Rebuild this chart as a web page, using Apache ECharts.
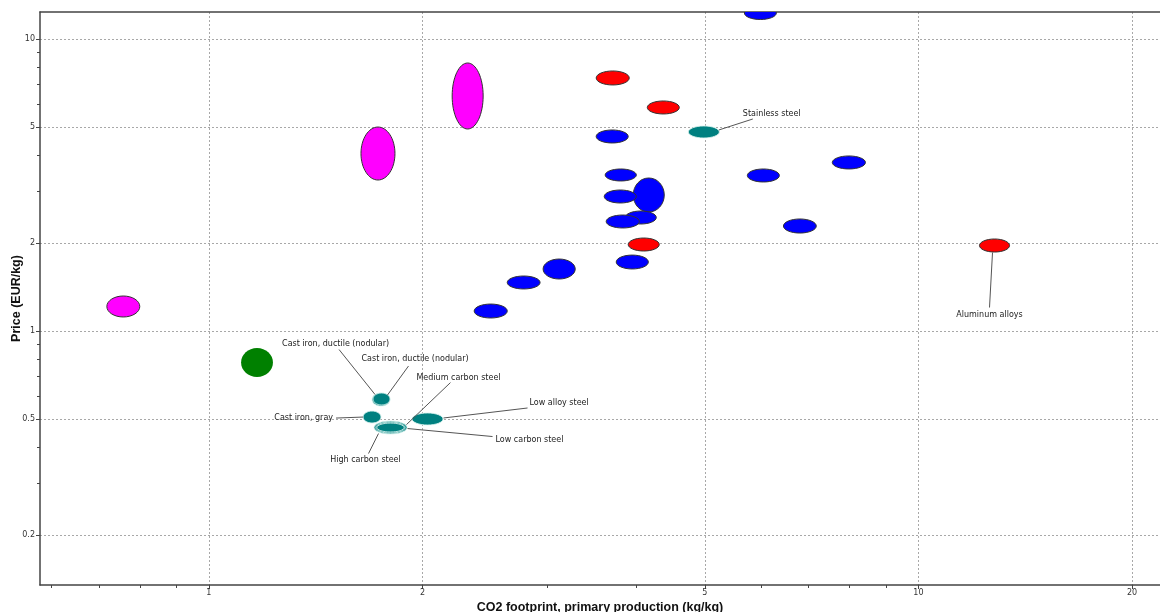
<!DOCTYPE html>
<html><head><meta charset="utf-8">
<script src="https://cdn.jsdelivr.net/npm/echarts@6/dist/echarts.min.js"></script>
<style>html,body{margin:0;padding:0;background:#fff}#c{width:1160px;height:612px}</style>
</head><body><div id="c"></div>
<script>
// ---- axes ----
const xTicks = [1, 2, 5, 10, 20];
const xMinorTicks = [0.6, 0.7, 0.8, 0.9, 3, 4, 6, 7, 8, 9];
const yTicks = [0.2, 0.5, 1, 2, 5, 10];
const yMinorTicks = [0.3, 0.4, 0.6, 0.7, 0.8, 0.9, 3, 4, 6, 7, 8, 9];
const xRange = [0.578, 21.9];
const yRange = [0.135, 12.37];
const xTitle = 'CO2 footprint, primary production (kg/kg)';
const yTitle = 'Price (EUR/kg)';

// ---- data: ranges [low, high] ----
const magentaCO2 = [[0.718, 0.799], [1.638, 1.829], [2.202, 2.435]];
const magentaPrice = [[1.117, 1.318], [3.289, 4.995], [4.918, 8.275]];

const greenCO2 = [[1.110, 1.231]];
const greenPrice = [[0.696, 0.875]];

const redNames = ['', '', '', 'Aluminum alloys'];
const redCO2 = [[3.514, 3.912], [4.148, 4.602], [3.899, 4.312], [12.19, 13.44]];
const redPrice = [[6.958, 7.771], [5.536, 6.134], [1.879, 2.082], [1.864, 2.066]];

const blueCO2 = [[5.684, 6.306], [3.514, 3.899], [3.618, 4.003], [3.963, 4.383], [3.607, 4.003],
  [3.861, 4.271], [3.630, 4.042], [3.750, 4.162], [2.958, 3.283], [2.633, 2.929], [2.365, 2.633],
  [5.739, 6.368], [7.561, 8.420], [6.452, 7.178]];
const bluePrice = [[11.66, 12.92], [4.404, 4.880], [3.264, 3.588], [2.556, 3.342], [2.744, 3.040],
  [2.325, 2.576], [2.253, 2.496], [1.631, 1.820], [1.507, 1.764], [1.393, 1.543], [1.108, 1.237],
  [3.238, 3.588], [3.588, 3.976], [2.165, 2.419]];

const tealNames = ['Cast iron, gray', 'Cast iron, ductile (nodular)', 'Cast iron, ductile (nodular)',
  'Low alloy steel', 'Low carbon steel', 'Medium carbon steel', 'High carbon steel', 'Stainless steel'];
const tealCO2 = [[1.649, 1.748], [1.698, 1.800], [1.703, 1.800], [1.933, 2.138], [1.709, 1.902],
  [1.719, 1.890], [1.725, 1.884], [4.738, 5.241]];
const tealPrice = [[0.484, 0.532], [0.5535, 0.6133], [0.558, 0.6133], [0.4766, 0.524], [0.4439, 0.4917],
  [0.447, 0.488], [0.451, 0.484], [4.581, 5.036]];

// ---- annotation layout (pixel offsets from ellipse centre) ----
const annotationLayout = [
  { group: 'teal', index: 0, text: [-39, 1, 'right'], line: [[-36, 1], [-9, 0]] },
  { group: 'teal', index: 1, text: [-99, -56, 'left'], line: [[-42, -50], [-6, -5]] },
  { group: 'teal', index: 2, text: [-20, -40, 'left'], line: [[27, -33], [6, -4]] },
  { group: 'teal', index: 3, text: [102, -16, 'left'], line: [[100, -11], [16, -1]] },
  { group: 'teal', index: 4, text: [105, 12, 'left'], line: [[17, 1], [102, 9]] },
  { group: 'teal', index: 5, text: [26, -50, 'left'], line: [[60, -45], [16, -3]] },
  { group: 'teal', index: 6, text: [-25, 32, 'center'], line: [[-22, 26], [-12, 6]] },
  { group: 'teal', index: 7, text: [39, -18, 'left'], line: [[15, -2], [49, -13]] },
  { group: 'red', index: 3, text: [-5, 69, 'center'], line: [[-2, 7], [-5, 62]] }
];

const L = Math.log10;
function rows(co2, price) {
  return co2.map((c, i) => [L(c[0]), L(c[1]), L(price[i][0]), L(price[i][1])]);
}
function ellipseGeom(api) {
  const p0 = api.coord([api.value(0), api.value(2)]);
  const p1 = api.coord([api.value(1), api.value(3)]);
  return {
    cx: (p0[0] + p1[0]) / 2, cy: (p0[1] + p1[1]) / 2,
    rx: Math.abs(p1[0] - p0[0]) / 2, ry: Math.abs(p1[1] - p0[1]) / 2
  };
}
function ellipseSeries(name, data, fill, stroke) {
  return {
    type: 'custom', name, clip: true, data,
    encode: { x: [0, 1], y: [2, 3] },
    renderItem: (params, api) => ({
      type: 'ellipse',
      shape: ellipseGeom(api),
      style: { fill, stroke, lineWidth: 1 }
    })
  };
}
const groups = {
  magenta: { co2: magentaCO2, price: magentaPrice, names: [] },
  green: { co2: greenCO2, price: greenPrice, names: [] },
  red: { co2: redCO2, price: redPrice, names: redNames },
  blue: { co2: blueCO2, price: bluePrice, names: [] },
  teal: { co2: tealCO2, price: tealPrice, names: tealNames }
};
const annData = annotationLayout.map(a => {
  const g = groups[a.group];
  const c = g.co2[a.index], p = g.price[a.index];
  return [L(c[0]), L(c[1]), L(p[0]), L(p[1])];
});

const fmt = v => String(+Math.pow(10, v).toPrecision(6));
const FONT = '"DejaVu Sans", sans-serif';
const axisCol = '#444';
const gridLine = { show: true, lineStyle: { type: [2, 2], color: '#a8a8a8', width: 1 } };

const option = {
  animation: false,
  backgroundColor: '#fff',
  grid: { left: 40, right: 0, top: 12, bottom: 27, containLabel: false, outerBoundsMode: 'none' },
  xAxis: [
    {
      type: 'value', min: L(xRange[0]), max: L(xRange[1]), position: 'bottom',
      name: xTitle, nameLocation: 'middle', nameGap: 16, nameMoveOverlap: false,
      nameTextStyle: { fontFamily: 'Liberation Sans', fontWeight: 'bold', fontSize: 12.5, color: '#111' },
      axisLine: { show: true, onZero: false, lineStyle: { color: axisCol, width: 1.5 } },
      axisTick: { show: true, customValues: xTicks.map(L), length: 4, lineStyle: { color: axisCol } },
      axisLabel: { customValues: xTicks.map(L), formatter: fmt, fontSize: 8, fontFamily: FONT, color: '#333', margin: 4 },
      splitLine: gridLine
    },
    {
      type: 'value', min: L(xRange[0]), max: L(xRange[1]), position: 'bottom',
      axisLine: { show: false, onZero: false },
      axisTick: { show: true, customValues: xMinorTicks.map(L), length: 3, lineStyle: { color: axisCol } },
      axisLabel: { show: false }, splitLine: { show: false }
    },
    {
      type: 'value', min: L(xRange[0]), max: L(xRange[1]), position: 'top',
      axisLine: { show: true, onZero: false, lineStyle: { color: axisCol, width: 1.5 } },
      axisTick: { show: false }, axisLabel: { show: false }, splitLine: { show: false }
    }
  ],
  yAxis: [
    {
      type: 'value', min: L(yRange[0]), max: L(yRange[1]), position: 'left',
      name: yTitle, nameLocation: 'middle', nameGap: 17, nameRotate: 90, nameMoveOverlap: false,
      nameTextStyle: { fontFamily: 'Liberation Sans', fontWeight: 'bold', fontSize: 12.5, color: '#111' },
      axisLine: { show: true, onZero: false, lineStyle: { color: axisCol, width: 1.5 } },
      axisTick: { show: true, customValues: yTicks.map(L), length: 4, lineStyle: { color: axisCol } },
      axisLabel: { customValues: yTicks.map(L), formatter: fmt, fontSize: 8, fontFamily: FONT, color: '#333', margin: 5 },
      splitLine: gridLine
    },
    {
      type: 'value', min: L(yRange[0]), max: L(yRange[1]), position: 'left',
      axisLine: { show: false, onZero: false },
      axisTick: { show: true, customValues: yMinorTicks.map(L), length: 3, lineStyle: { color: axisCol } },
      axisLabel: { show: false }, splitLine: { show: false }
    }
  ],
  series: [
    ellipseSeries('magenta', rows(magentaCO2, magentaPrice), '#ff00ff', '#333'),
    ellipseSeries('green', rows(greenCO2, greenPrice), '#008000', 'rgba(0,0,0,0)'),
    ellipseSeries('blue', rows(blueCO2, bluePrice), '#0000ff', '#333'),
    ellipseSeries('red', rows(redCO2, redPrice), '#ff0000', '#333'),
    ellipseSeries('teal', rows(tealCO2, tealPrice), '#008080', 'rgba(220,245,240,0.85)'),
    {
      type: 'custom', name: 'labels', clip: false, data: annData,
      encode: { x: [0, 1], y: [2, 3] },
      renderItem: (params, api) => {
        const g = ellipseGeom(api);
        const a = annotationLayout[params.dataIndex];
        const name = groups[a.group].names[a.index];
        return {
          type: 'group',
          children: [
            {
              type: 'line',
              shape: { x1: g.cx + a.line[0][0], y1: g.cy + a.line[0][1], x2: g.cx + a.line[1][0], y2: g.cy + a.line[1][1] },
              style: { stroke: '#555', lineWidth: 1 }
            },
            {
              type: 'text',
              style: {
                text: name, x: g.cx + a.text[0], y: g.cy + a.text[1],
                align: a.text[2], verticalAlign: 'middle',
                fill: '#222', font: '8px ' + FONT
              }
            }
          ]
        };
      }
    }
  ]
};
const chart = echarts.init(document.getElementById('c'), null, { renderer: 'canvas' });
chart.setOption(option);
</script>
</body></html>
